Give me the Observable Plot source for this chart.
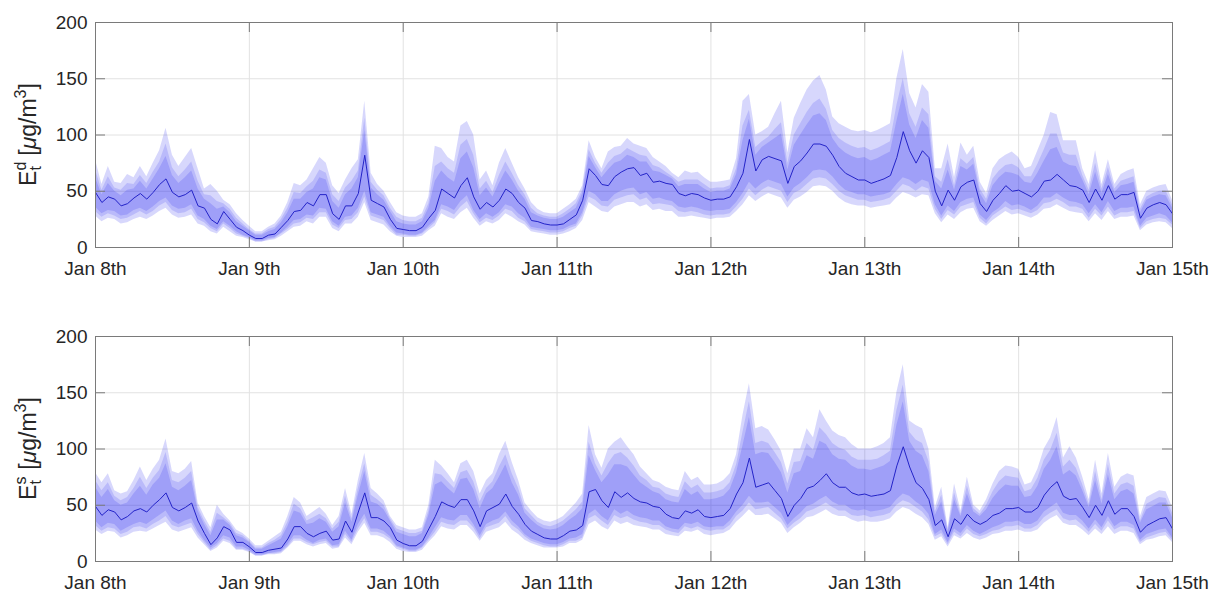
<!DOCTYPE html>
<html><head><meta charset="utf-8">
<script src="https://cdn.jsdelivr.net/npm/d3@7"></script>
<script src="https://cdn.jsdelivr.net/npm/@observablehq/plot@0.6"></script>
<style>
html,body{margin:0;padding:0;background:#fff;overflow:hidden;}
#wrap{position:relative;width:1223px;height:597px;overflow:hidden;}
.panel{position:absolute;left:0;}
</style></head><body>
<div id="wrap"><div class="panel" id="p1" style="top:0px"></div><div class="panel" id="p2" style="top:314px"></div></div>
<script>
// ---- tick labels ----
const dayLabels = ["Jan 8th","Jan 9th","Jan 10th","Jan 11th","Jan 12th","Jan 13th","Jan 14th","Jan 15th"];
const dayTicks = [0,24,48,72,96,120,144,168]; // hours since Jan 8th 00:00
const yTicks = [0,50,100,150,200];

// ---- top panel: E_t^d (hourly, Jan 8 00h .. Jan 15 00h) ----
const edMed = [49,40,45,43,37,39,44,48,43,49,
56,61,49,45,47,51,37,35,25,21,
32,25,18,15,11,8,8,11,12,18,
24,32,33,40,37,47,47,30,25,37,
37,48,82,42,39,36,25,17,16,15,
15,18,26,33,52,48,44,55,62,45,
34,40,36,42,52,48,40,35,24,23,
21,20,20,21,25,29,42,70,64,56,
55,63,67,70,71,64,66,58,59,57,
56,48,46,48,47,44,42,43,43,45,
54,66,96,68,78,81,79,77,57,72,
77,84,92,92,90,82,72,66,63,60,
60,57,59,61,64,80,103,86,75,86,
80,50,37,51,42,54,58,60,39,32,
42,48,55,50,51,48,45,50,59,60,
65,60,55,54,51,40,52,42,55,43,
47,47,49,26,35,38,40,38,30];
const edOutHi = [78,56,72,58,57,65,62,72,63,75,
86,106,82,72,80,88,70,52,56,50,
42,38,30,24,19,14,14,18,21,28,
40,57,55,60,70,80,75,55,48,60,
70,78,130,66,56,50,40,31,28,27,
27,30,45,90,88,80,76,108,112,100,
60,68,55,75,88,75,62,52,40,34,
31,30,30,34,38,43,55,95,80,70,
85,89,90,97,92,90,88,80,76,72,
66,62,68,66,67,62,58,58,59,60,
79,130,136,100,103,107,119,130,84,115,
128,140,148,153,140,116,110,107,104,103,
104,102,104,107,110,150,176,137,124,145,
138,70,70,92,62,93,82,90,58,48,
70,78,82,85,80,70,72,86,100,120,
118,95,95,95,70,56,86,56,78,56,
65,68,70,38,50,53,55,56,42];
const edMidHi = [69,51,63,53,51,57,56,64,57,67,
76,92,71,63,69,76,59,47,46,41,
39,34,26,21,16,12,12,16,18,25,
35,49,48,54,59,69,66,47,41,53,
59,68,115,58,51,46,35,27,24,23,
23,26,39,72,76,70,66,91,96,82,
52,59,49,64,76,66,55,47,35,30,
28,27,27,30,34,39,51,87,75,66,
75,81,83,88,85,82,81,73,71,67,
63,58,60,60,60,56,52,53,53,55,
70,108,122,89,94,98,105,111,75,100,
110,120,128,132,123,104,97,93,90,88,
89,86,88,91,94,126,150,119,107,124,
118,63,58,78,55,79,74,80,52,43,
61,68,73,74,71,63,63,74,87,101,
101,84,82,82,64,51,75,52,71,52,
59,61,63,34,45,48,50,50,38];
const edInHi = [62,47,57,50,46,51,52,59,52,61,
70,81,64,57,62,68,52,43,39,34,
36,31,23,19,15,11,11,14,16,22,
31,43,43,49,52,62,60,41,35,47,
52,62,104,53,47,42,32,23,21,20,
20,23,35,59,68,62,58,79,85,71,
46,53,45,57,68,60,50,43,31,28,
26,25,25,27,31,35,48,81,71,62,
69,75,77,82,80,76,76,68,67,64,
61,54,56,56,56,52,49,50,50,52,
65,95,114,82,89,93,97,101,69,91,
100,109,117,119,113,97,89,84,81,79,
80,77,79,82,85,112,136,109,97,113,
106,59,52,69,51,72,69,74,48,39,
55,62,67,66,64,58,57,66,77,87,
89,76,73,72,60,47,67,48,65,49,
55,56,58,31,42,45,47,46,35];
const edInLo = [36,30,33,32,28,29,33,35,32,36,
41,44,37,34,35,38,28,25,19,16,
23,19,14,11,9,6,6,8,9,13,
18,24,25,29,28,35,34,23,19,27,
28,35,50,31,29,27,19,13,12,11,
11,13,19,24,38,36,33,41,46,33,
25,30,27,31,38,36,30,26,18,17,
16,15,15,16,19,21,31,50,47,41,
41,47,50,52,53,47,49,43,44,42,
41,36,35,36,35,33,32,33,33,34,
40,48,58,52,57,60,58,56,45,53,
57,62,68,69,68,63,56,51,49,47,
47,45,46,47,49,56,62,60,56,60,
58,38,28,37,32,40,43,44,29,24,
31,35,41,37,38,36,33,37,44,44,
48,44,41,40,38,30,38,31,41,32,
35,35,36,19,26,28,30,28,22];
const edMidLo = [32,27,30,28,25,26,29,32,29,32,
37,40,33,30,31,34,25,22,17,14,
21,17,12,10,8,5,5,7,8,12,
16,21,22,26,25,31,31,20,17,24,
25,31,45,28,26,24,17,11,11,10,
10,12,17,22,34,32,29,36,41,30,
22,26,24,28,34,32,26,23,16,15,
14,13,13,14,17,19,28,45,42,37,
36,42,44,46,47,42,44,38,39,38,
37,32,31,32,31,29,28,29,29,30,
36,43,52,46,51,54,52,50,40,48,
51,56,61,62,61,56,50,46,44,42,
42,40,41,42,44,50,56,54,50,54,
52,34,25,33,29,36,38,40,26,21,
28,32,36,33,34,32,30,33,39,40,
43,40,36,36,34,26,34,28,36,28,
31,31,32,17,23,25,26,25,20];
const edOutLo = [28,23,26,25,21,22,25,27,25,28,
32,35,29,26,27,29,21,19,14,12,
18,14,10,9,7,5,5,6,7,10,
14,18,19,23,21,27,27,17,14,21,
21,27,40,24,22,20,14,10,9,9,
9,10,15,19,30,27,25,31,35,26,
19,23,21,24,30,27,23,20,14,13,
12,11,11,12,14,17,24,40,36,32,
31,36,38,40,40,36,38,33,34,32,
32,27,27,28,27,26,25,26,26,27,
32,38,46,41,45,48,46,44,35,42,
45,49,54,55,54,50,44,40,38,37,
37,35,36,37,38,44,49,47,44,47,
46,30,22,29,25,31,34,35,23,19,
24,28,32,29,30,28,26,29,34,35,
38,35,32,31,30,23,30,24,32,25,
27,27,28,15,20,22,23,22,17];

// ---- bottom panel: E_t^s ----
const esMed = [49,41,46,44,37,40,45,47,44,50,
55,61,48,45,48,52,36,25,15,21,
31,28,17,17,13,8,8,10,11,12,
20,31,31,25,22,25,27,19,20,36,
26,44,61,39,39,36,30,19,16,14,
14,18,29,40,53,50,48,55,55,45,
31,45,48,51,60,49,42,33,27,24,
21,20,20,23,27,28,32,62,64,54,
48,62,57,61,56,53,52,49,48,42,
39,38,45,43,46,40,39,40,41,47,
60,70,92,66,68,70,63,56,40,50,
56,65,67,72,78,70,66,66,61,59,
60,58,59,60,63,85,102,84,70,65,
55,32,37,22,38,33,42,36,33,36,
41,43,47,47,48,44,44,48,59,66,
71,58,55,56,48,39,50,41,54,42,
47,47,40,26,32,35,38,39,29];
const esOutHi = [79,70,78,63,60,62,72,84,72,82,
90,109,80,78,82,89,52,40,30,50,
42,36,28,25,20,14,14,18,22,26,
40,57,52,40,44,48,42,32,40,65,
42,72,96,65,60,54,40,32,30,28,
28,30,50,90,85,78,70,87,90,80,
60,72,78,95,107,88,72,52,45,39,
36,35,37,40,46,52,60,121,95,83,
100,106,110,102,95,84,78,72,70,66,
64,63,80,72,75,68,68,69,72,78,
95,130,158,118,120,117,108,98,78,100,
100,118,110,135,125,116,112,110,104,100,
100,100,102,105,110,150,175,125,121,118,
100,48,66,30,69,45,75,50,45,55,
69,80,85,84,82,68,70,82,100,110,
128,92,102,92,75,55,90,60,96,66,
75,78,76,40,57,60,63,62,48];
const esMidHi = [72,63,70,58,54,57,65,75,65,74,
81,97,72,70,74,80,48,36,26,43,
39,34,25,23,18,12,12,16,19,23,
35,51,47,36,39,42,38,29,35,58,
38,65,87,59,55,50,38,29,27,25,
25,27,45,78,77,71,65,79,81,71,
53,65,71,84,95,78,65,47,41,35,
32,31,33,36,41,46,53,106,87,76,
87,95,97,92,85,76,72,66,65,60,
58,57,71,65,68,61,61,62,64,70,
86,115,142,105,107,105,97,88,69,88,
89,105,99,119,113,105,101,99,93,90,
90,90,91,94,98,134,157,115,108,105,
89,44,59,28,61,42,67,47,42,50,
62,71,76,75,74,62,64,74,90,99,
114,84,90,83,68,51,80,55,86,60,
68,70,67,36,51,54,57,56,43];
const esInHi = [66,57,64,54,50,52,60,67,59,68,
74,87,66,63,67,72,45,33,23,37,
37,32,23,21,17,11,11,14,17,20,
31,45,43,33,34,38,35,26,31,52,
35,59,80,53,51,46,36,26,24,22,
22,25,41,68,71,65,60,73,74,64,
47,60,65,75,86,70,59,43,37,32,
29,28,29,32,37,41,47,94,81,70,
77,86,86,84,77,70,66,62,60,55,
53,52,64,59,62,55,55,56,58,64,
79,103,128,95,97,96,88,79,61,78,
80,94,91,107,104,95,91,90,85,82,
82,81,83,85,89,121,142,107,98,94,
80,41,53,26,55,40,60,44,40,46,
56,63,68,67,67,57,58,67,82,90,
102,77,81,76,63,48,72,51,77,55,
62,64,60,34,46,49,52,52,39];
const esInLo = [36,30,34,33,27,30,33,35,33,37,
41,45,36,33,36,38,27,19,12,16,
23,21,13,13,10,6,6,7,8,9,
15,23,23,19,16,19,20,14,15,27,
19,33,42,29,29,27,22,14,12,10,
10,13,21,30,39,37,36,41,41,33,
23,33,36,38,44,36,31,24,20,18,
16,15,15,17,20,21,24,42,46,40,
36,46,42,45,41,39,38,36,36,31,
29,28,34,33,35,31,30,31,31,36,
44,50,58,52,52,53,48,43,32,38,
43,49,51,55,58,53,50,50,46,45,
46,44,45,46,48,55,60,58,53,49,
42,24,28,17,29,25,32,27,24,27,
30,32,35,35,36,33,33,36,44,48,
52,43,41,41,36,29,37,30,40,31,
35,35,32,19,24,26,28,29,21];
const esMidLo = [32,27,30,29,24,26,30,31,29,33,
36,40,32,30,32,34,24,17,10,14,
20,18,11,11,9,5,5,7,7,8,
13,20,20,17,15,17,18,13,13,24,
17,29,38,26,26,24,20,13,11,9,
9,12,19,26,35,33,32,36,36,30,
20,30,32,34,40,32,28,22,18,16,
14,13,13,15,18,18,21,38,41,36,
32,41,38,40,37,35,34,32,32,28,
26,25,31,29,31,28,27,28,28,32,
40,45,52,46,47,48,43,38,29,34,
38,44,46,49,52,48,45,45,41,40,
41,39,40,41,43,50,54,52,48,44,
37,22,25,15,26,22,29,24,22,24,
27,28,31,31,32,29,29,32,39,43,
46,38,36,37,32,26,33,27,36,28,
31,31,29,17,21,23,25,26,19];
const esOutLo = [28,24,27,26,21,23,26,27,26,29,
32,35,28,26,28,30,21,15,9,12,
18,16,10,10,8,5,5,6,6,7,
12,18,18,15,13,15,16,11,12,21,
15,26,34,23,23,21,17,11,9,8,
8,10,17,23,31,29,28,32,32,26,
18,26,28,30,35,28,24,19,16,14,
12,12,12,13,16,16,19,33,36,31,
28,36,33,35,32,31,30,28,28,24,
23,22,27,26,28,24,23,24,25,28,
35,40,46,41,41,42,38,34,25,30,
34,39,40,43,46,42,40,40,37,35,
36,35,35,36,38,44,48,46,42,39,
33,19,22,13,23,20,25,21,19,21,
24,25,27,27,28,26,26,28,34,38,
41,34,32,32,28,23,29,24,31,24,
27,27,25,15,19,20,22,23,17];

const FONT = "'Liberation Sans', Arial, Helvetica, sans-serif";
const W = 1223, H = 298, MT = 22, MB = 51, ML = 95, MR = 51;
const PW = W - ML - MR, PH = H - MT - MB;
const TL = 10; // inward tick length px

function makePanel(med, oH, mH, iH, iL, mL, oL, sup) {
  const rows = med.map((m, h) => ({h, m, oH: oH[h], mH: mH[h], iH: iH[h], iL: iL[h], mL: mL[h], oL: oL[h]}));
  const axisCol = "#7a7a7a";
  const plot = Plot.plot({
    width: W, height: H, marginTop: MT, marginBottom: MB, marginLeft: ML, marginRight: MR,
    style: {fontFamily: FONT, fontSize: "19px", color: "#262626", background: "white", overflow: "visible"},
    x: {domain: [0, 168]},
    y: {domain: [0, 200]},
    marks: [
      Plot.ruleX(dayTicks, {stroke: "#e2e2e2", strokeWidth: 1}),
      Plot.ruleY(yTicks, {stroke: "#e2e2e2", strokeWidth: 1}),
      Plot.areaY(rows, {x: "h", y1: "oL", y2: "oH", fill: "#1010f0", fillOpacity: 0.17, curve: "linear"}),
      Plot.areaY(rows, {x: "h", y1: "mL", y2: "mH", fill: "#1010f0", fillOpacity: 0.14, curve: "linear"}),
      Plot.areaY(rows, {x: "h", y1: "iL", y2: "iH", fill: "#1010f0", fillOpacity: 0.16, curve: "linear"}),
      Plot.lineY(rows, {x: "h", y: "m", stroke: "#2323c8", strokeWidth: 1}),
      Plot.ruleX(dayTicks, {stroke: axisCol, insetTop: PH - TL}),
      Plot.ruleX(dayTicks, {stroke: axisCol, insetBottom: PH - TL}),
      Plot.ruleY(yTicks, {stroke: axisCol, insetRight: PW - TL}),
      Plot.ruleY(yTicks, {stroke: axisCol, insetLeft: PW - TL}),
      Plot.frame({stroke: axisCol, strokeWidth: 1}),
      Plot.axisX(dayTicks, {tickSize: 0, tickPadding: 14, tickFormat: d => dayLabels[d / 24], label: null, fontSize: 19, fill: "#262626"}),
      Plot.axisY(yTicks, {tickSize: 0, tickPadding: 8, label: null, fontSize: 19, fill: "#262626"})
    ]
  });
  const svg = d3.select(plot);
  const t = svg.append("text")
    .attr("transform", `translate(36,${MT + PH / 2}) rotate(-90)`)
    .attr("text-anchor", "middle")
    .attr("font-family", FONT).attr("font-size", 23).attr("fill", "#262626");
  t.append("tspan").text("E");
  t.append("tspan").attr("font-size", 16).attr("dy", -10).text(sup);
  t.append("tspan").attr("font-size", 16).attr("dx", sup === "d" ? -8.9 : -8).attr("dy", 15).text("t");
  t.append("tspan").attr("dy", -5).attr("dx", 4).text("\u00a0[");
  t.append("tspan").attr("font-style", "italic").text("\u03bc");
  t.append("tspan").text("g/m");
  t.append("tspan").attr("font-size", 16).attr("dy", -10).text("3");
  t.append("tspan").attr("dy", 10).text("]");
  return plot;
}

document.getElementById("p1").appendChild(makePanel(edMed, edOutHi, edMidHi, edInHi, edInLo, edMidLo, edOutLo, "d"));
document.getElementById("p2").appendChild(makePanel(esMed, esOutHi, esMidHi, esInHi, esInLo, esMidLo, esOutLo, "s"));
</script>
</body></html>
